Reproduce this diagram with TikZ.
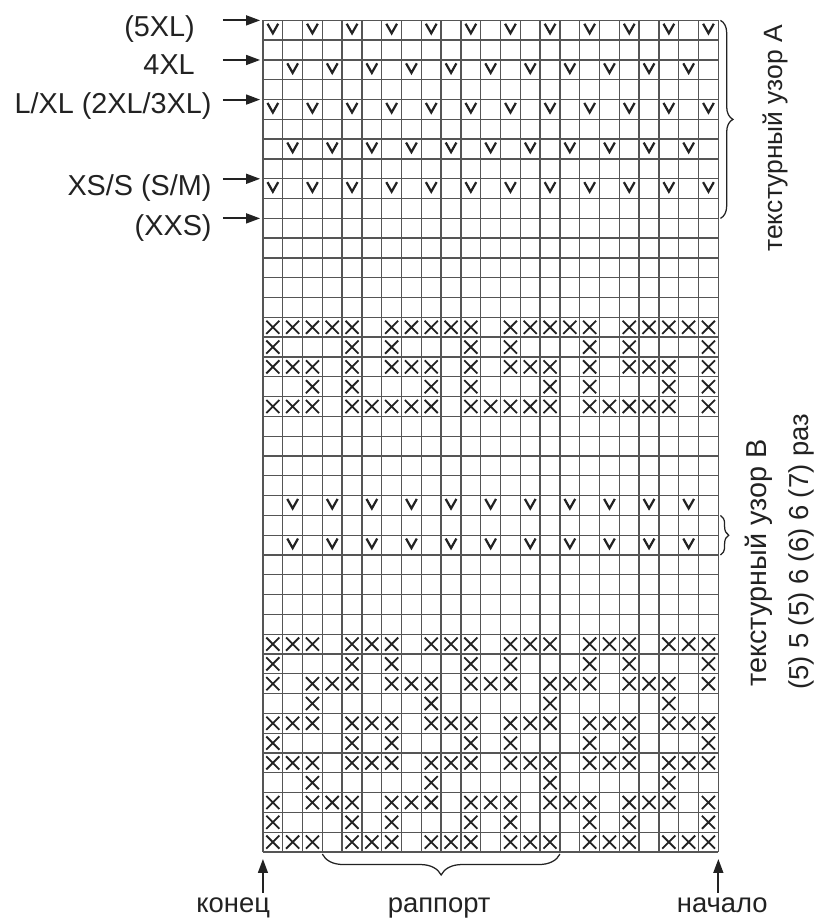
\documentclass[tikz,border=0pt]{standalone}
\usepackage{fontspec}
\setmainfont{Liberation Sans}
\usetikzlibrary{arrows.meta,decorations.pathreplacing}
\definecolor{ink}{HTML}{222222}
\definecolor{rule}{HTML}{555555}

\begin{document}
\begin{tikzpicture}[x=0.5cm,y=0.5cm,
    lbl/.style={font=\fontsize{20.7}{24}\selectfont,text=ink,inner sep=0pt},
    ptr/.style={ink,line width=1.4pt,-{Triangle[length=10pt,width=7pt]}},
    brc/.style={ink,line width=0.9pt,decorate,decoration={brace,amplitude=#1,raise=1.5pt}},
    vst/.style={ink,line width=1.6pt},
    xst/.style={ink,line width=1.3pt}]
    \useasboundingbox (-13.28,-3.535) rectangle (27.88,43.03);
    \draw[rule,line width=1pt,step=1] (0,0) grid (23,42);
    % slip stitches
    \foreach \y/\cs in {41.5/{1,3,...,23},39.5/{2,4,...,22},37.5/{1,3,...,23},35.5/{2,4,...,22},33.5/{1,3,...,23},17.5/{2,4,...,22},15.5/{2,4,...,22}}
      \foreach \c in \cs \draw[vst] (\c-0.77,\y+0.33) -- (\c-0.5,\y-0.15) -- (\c-0.23,\y+0.33);
    % contrast stitches
    \foreach \y/\cs in {26.5/{1,2,3,4,5,7,8,9,10,11,13,14,15,16,17,19,20,21,22,23},
        25.5/{1,5,7,11,13,17,19,23},
        24.5/{1,2,3,5,7,8,9,11,13,14,15,17,19,20,21,23},
        23.5/{3,5,9,11,15,17,21,23},
        22.5/{1,2,3,5,6,7,8,9,11,12,13,14,15,17,18,19,20,21,23},
        10.5/{1,2,3,5,6,7,9,10,11,13,14,15,17,18,19,21,22,23},
        9.5/{1,5,7,11,13,17,19,23},
        8.5/{1,3,4,5,7,8,9,11,12,13,15,16,17,19,20,21,23},
        7.5/{3,9,15,21},
        6.5/{1,2,3,5,6,7,9,10,11,13,14,15,17,18,19,21,22,23},
        5.5/{1,5,7,11,13,17,19,23},
        4.5/{1,2,3,5,6,7,9,10,11,13,14,15,17,18,19,21,22,23},
        3.5/{3,9,15,21},
        2.5/{1,3,4,5,7,8,9,11,12,13,15,16,17,19,20,21,23},
        1.5/{1,5,7,11,13,17,19,23},
        0.5/{1,2,3,5,6,7,9,10,11,13,14,15,17,18,19,21,22,23}}
      \foreach \c in \cs \draw[xst] (\c-0.83,\y-0.33) -- (\c-0.17,\y+0.33) (\c-0.83,\y+0.33) -- (\c-0.17,\y-0.33);
    % sizes
    \node[lbl,anchor=base east] (s5xl) at (-3.43,41.2) {(5XL)};
    \node[lbl,anchor=base east] (s4xl) at (-3.43,39.25) {4XL};
    \node[lbl,anchor=base east] (slxl) at (-2.58,37.3) {L/XL (2XL/3XL)};
    \node[lbl,anchor=base east] (sxss) at (-2.58,33.15) {XS/S (S/M)};
    \node[lbl,anchor=base east] (sxxs) at (-2.58,31.15) {(XXS)};
    \foreach \y/\n in {42/a,40/b,38/c,34/d,32/e} {
      \coordinate (p\n) at (-2.02,\y); \coordinate (q\n) at (0,\y);
      \draw[ptr,shorten >=2pt] (p\n) -- (q\n);
    }
    % braces and side notes
    \coordinate (ba1) at (23,42); \coordinate (ba2) at (23,32);
    \draw[brc=9pt] (ba1) -- (ba2);
    \coordinate (bb1) at (23,17); \coordinate (bb2) at (23,15);
    \draw[brc=6pt] (bb1) -- (bb2);
    \coordinate (br1) at (15,0); \coordinate (br2) at (3,0);
    \draw[brc=15pt] (br1) -- (br2);
    \node[lbl,font=\fontsize{19}{24}\selectfont,rotate=90,anchor=base] (txa) at (26.26,36.05) {текстурный узор A};
    \node[lbl,rotate=90,anchor=base] (txb) at (25.45,14.6) {текстурный узор  B};
    \node[lbl,font=\fontsize{19.7}{24}\selectfont,rotate=90,anchor=base] (rep) at (27.57,15.15) {(5) 5 (5) 6 (6) 6 (7) раз};
    % start and end
    \coordinate (kon) at (0,-2.07); \coordinate (nac) at (23,-2.07);
    \coordinate (g0) at (0,0); \coordinate (g23) at (23,0);
    \draw[ptr,shorten >=5pt] (kon) -- (g0);
    \draw[ptr,shorten >=5pt] (nac) -- (g23);
    \node[lbl,font=\fontsize{19.7}{24}\selectfont,anchor=base] (lkon) at (-1.5,-3.05) {конец};
    \node[lbl,font=\fontsize{19.7}{24}\selectfont,anchor=base] (lrap) at (8.9,-3.05) {раппорт};
    \node[lbl,font=\fontsize{19.7}{24}\selectfont,anchor=base] (lnac) at (23.2,-3.05) {начало};
  \end{tikzpicture}
\end{document}
